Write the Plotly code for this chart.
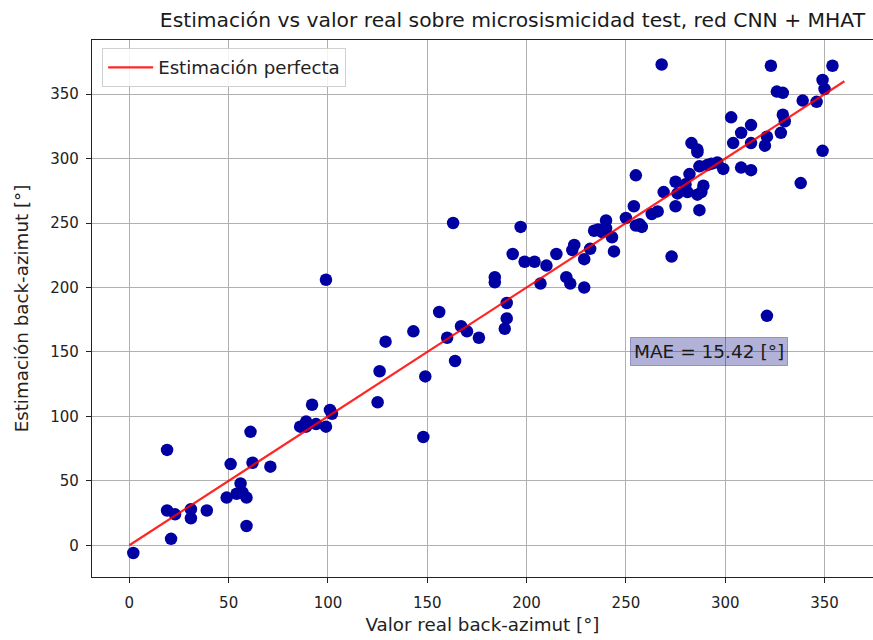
import plotly.graph_objects as go

# Real back-azimuth (deg) and network estimate (deg) per test event
real_baz = [
    2, 19, 19, 23, 21, 31, 31, 39, 51, 49, 54, 56, 59, 57, 59, 61, 62, 71,
    86, 89, 89, 92, 94, 101, 102, 99, 99, 126, 125, 129, 143, 156, 160, 164,
    167, 170, 176, 149, 148, 184, 184, 190, 190, 189, 163,
    197, 193, 199, 204, 210, 215, 207, 220, 222, 229, 224, 223, 229, 232,
    234, 236, 238, 240, 240, 243, 244, 250, 254, 255, 255, 258, 263, 266,
    269, 268, 273, 275, 275, 276, 281, 282, 287, 289, 288, 286, 287, 283,
    286, 291, 293, 296, 299, 303, 313, 308, 304, 313, 320, 321, 323, 326,
    329, 329, 330, 328, 339, 346, 349, 350, 354, 349, 338, 308, 313, 321,
    286, 257, 280,
]
est_baz = [
    -6, 74, 27, 24, 5, 28, 21, 27, 63, 37, 40, 48, 37, 41, 15, 88, 64, 61,
    92, 96, 92, 109, 94, 105, 102, 92, 206, 135, 111, 158, 166, 181, 161, 143,
    170, 166, 161, 131, 84, 208, 204, 188, 176, 168, 250,
    247, 226, 220, 220, 217, 226, 203, 208, 203, 200, 233, 229, 222, 230,
    244, 245, 243, 252, 246, 239, 228, 254, 263, 287, 248, 247, 257, 259,
    274, 373, 224, 282, 263, 273, 274, 288, 260, 279, 274, 305, 294, 312,
    307, 295, 296, 297, 292, 332, 326, 320, 312, 312, 310, 317, 372, 352,
    351, 334, 329, 320, 345, 344, 361, 354, 372, 306, 281, 293, 291, 178,
    272, 249, 280,
]

# Reference diagonal
ideal = [0, 360]

mae_text = "MAE = 15.42 [°]"
title_text = "Estimación vs valor real sobre microsismicidad test, red CNN + MHAT"
x_title = "Valor real back-azimut [°]"
y_title = "Estimación back-azimut [°]"
x_ticks = [0, 50, 100, 150, 200, 250, 300, 350]
y_ticks = [0, 50, 100, 150, 200, 250, 300, 350]

FONT = "DejaVu Sans, sans-serif"

fig = go.Figure()
fig.add_trace(go.Scatter(
    x=real_baz, y=est_baz, mode="markers",
    marker=dict(color="#0000a2", size=12.5, line=dict(width=0)),
    showlegend=False, hoverinfo="skip",
))
fig.add_trace(go.Scatter(
    x=ideal, y=ideal, mode="lines",
    line=dict(color="rgba(255,0,0,0.85)", width=2.2),
    name="Estimación perfecta",
))

fig.add_annotation(
    x=252.3, y=150, xref="x", yref="y", text=mae_text, showarrow=False,
    xanchor="left", yanchor="middle",
    font=dict(family=FONT, size=18.5, color="#1a1a1a"),
    bgcolor="rgba(0,0,128,0.3)", bordercolor="rgba(60,60,140,0.45)",
    borderwidth=1, borderpad=3,
)

axis_common = dict(
    showgrid=True, gridcolor="#b0b0b0", gridwidth=1,
    showline=True, linecolor="#222222", linewidth=1.2,
    ticks="outside", ticklen=5, tickcolor="#222222",
    zeroline=False,
    tickfont=dict(family=FONT, size=15, color="#222222"),
)

fig.update_layout(
    width=873, height=640,
    margin=dict(l=92, r=0, t=40, b=63),
    paper_bgcolor="white", plot_bgcolor="white",
    title=dict(
        text=title_text, x=0.587, xanchor="center", y=0.969, yanchor="middle",
        font=dict(family=FONT, size=20.3, color="#1a1a1a"),
    ),
    xaxis=dict(
        range=[-18.8, 374.4], tickvals=x_ticks, mirror=True,
        ticklabelstandoff=7,
        title=dict(text=x_title, standoff=7,
                   font=dict(family=FONT, size=18.3, color="#222222")),
        **axis_common,
    ),
    yaxis=dict(
        range=[-24.6, 392], tickvals=y_ticks, ticklabelstandoff=4,
        title=dict(text=y_title, standoff=16,
                   font=dict(family=FONT, size=18.3, color="#222222")),
        **axis_common,
    ),
    legend=dict(
        x=0.013, y=0.985, xanchor="left", yanchor="top",
        itemwidth=45,
        bgcolor="rgba(255,255,255,0.85)", bordercolor="#d0d0d0", borderwidth=1,
        font=dict(family=FONT, size=18.2, color="#222222"),
    ),
)

fig.write_html("out.html")
